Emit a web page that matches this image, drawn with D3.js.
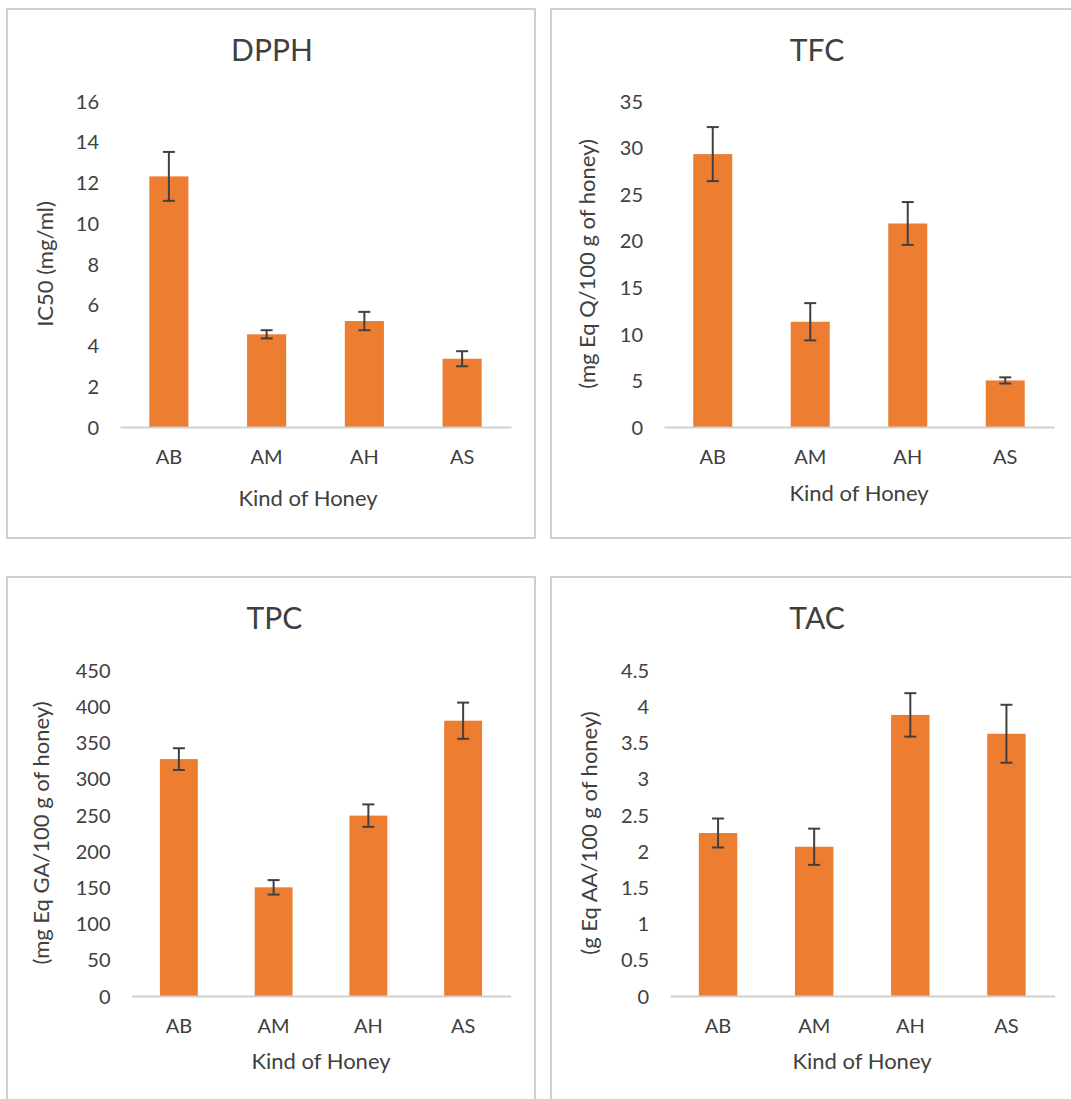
<!DOCTYPE html>
<html>
<head>
<meta charset="UTF-8" />
<title>Honey</title>
<script src="https://cdn.jsdelivr.net/npm/d3@7"></script>
<style>
body{margin:0;background:#fff;}
svg text{font-family:Lato,"Open Sans",sans-serif;fill:#404040;}
</style>
</head>
<body>
<div id="chart"></div>
<script>

var W=1071,H=1099;

var categories=['AB','AM','AH','AS'];

var dpphValues=[12.3,4.55,5.2,3.35];
var dpphErrors=[1.2,0.2,0.45,0.37];
var dpphTicks=[0,2,4,6,8,10,12,14,16];

var tfcValues=[29.3,11.3,21.85,5.0];
var tfcErrors=[2.9,2.0,2.3,0.33];
var tfcTicks=[0,5,10,15,20,25,30,35];

var tpcValues=[327,150,249,380];
var tpcErrors=[15,10,15.5,25];
var tpcTicks=[0,50,100,150,200,250,300,350,400,450];

var tacValues=[2.25,2.06,3.88,3.62];
var tacErrors=[0.2,0.25,0.3,0.4];
var tacTicks=[0,0.5,1,1.5,2,2.5,3,3.5,4,4.5];

var svg=d3.select('#chart').append('svg')
  .attr('width',W)
  .attr('height',H);

//each panel: box, plot area and text positions
var panels=[
  {title:'DPPH',ytitle:'IC50 (mg/ml)',values:dpphValues,errors:dpphErrors,ticks:dpphTicks,
   box:[7,9,528,529],left:120,right:511,top:101,bottom:427,
   titleX:272,titleY:50,xtX:308,xtY:498,ytX:45},
  {title:'TFC',ytitle:'(mg Eq Q/100 g of honey)',values:tfcValues,errors:tfcErrors,ticks:tfcTicks,
   box:[551,9,540,529],left:664,right:1054,top:101,bottom:427,
   titleX:817,titleY:50,xtX:859,xtY:493,ytX:587},
  {title:'TPC',ytitle:'(mg Eq GA/100 g of honey)',values:tpcValues,errors:tpcErrors,ticks:tpcTicks,
   box:[7,577,528,540],left:131.5,right:510.5,top:670,bottom:996,
   titleX:274.5,titleY:618,xtX:321,xtY:1061,ytX:41},
  {title:'TAC',ytitle:'(g Eq AA/100 g of honey)',values:tacValues,errors:tacErrors,ticks:tacTicks,
   box:[551,577,540,540],left:670,right:1054.5,top:670,bottom:996,
   titleX:817,titleY:618,xtX:862,xtY:1061,ytX:589}
];

panels.forEach(drawPanel);

function drawPanel(p){
  var g=svg.append('g');

  //外框
  g.append('rect')
    .attr('x',p.box[0]).attr('y',p.box[1])
    .attr('width',p.box[2]).attr('height',p.box[3])
    .attr('fill','#fff')
    .attr('stroke','#d0d0d0')
    .attr('stroke-width',2);

  var x=d3.scaleBand()
    .domain(categories)
    .range([p.left,p.right])
    .paddingInner(0.6)
    .paddingOuter(0.3);

  var y=d3.scaleLinear()
    .domain([0,d3.max(p.ticks)])
    .range([p.bottom,p.top]);

  //y axis labels, no line
  var ya=g.append('g')
    .attr('transform','translate('+p.left+',0)')
    .call(d3.axisLeft(y).tickValues(p.ticks).tickSize(0).tickPadding(21).tickFormat(d3.format('')));
  ya.select('.domain').remove();
  ya.selectAll('text')
    .attr('dy','0.36em')
    .style('font-size','20px')
    .style('font-family','Lato')
    .attr('fill','#404040');

  //bars
  g.selectAll('rect.bar')
    .data(p.values)
    .enter()
    .append('rect')
    .attr('class','bar')
    .attr('x',function(d,i){return x(categories[i]);})
    .attr('y',function(d){return y(d);})
    .attr('width',x.bandwidth())
    .attr('height',function(d){return p.bottom-y(d);})
    .attr('fill','#ed7d31');

  //x axis
  var xa=g.append('g')
    .attr('transform','translate(0,'+p.bottom+')')
    .call(d3.axisBottom(x).tickSize(0).tickSizeOuter(0));
  xa.select('.domain')
    .attr('stroke','#d0d0d0')
    .attr('stroke-width',2);
  xa.selectAll('text')
    .attr('y',29.5)
    .attr('dy','0.36em')
    .style('font-size','20px')
    .style('font-family','Lato')
    .attr('fill','#404040');

  //error bars
  var eb=g.selectAll('g.err')
    .data(p.values)
    .enter()
    .append('g')
    .attr('class','err')
    .attr('stroke','#404040')
    .attr('stroke-width',2);
  eb.append('line')
    .attr('x1',function(d,i){return x(categories[i])+x.bandwidth()/2;})
    .attr('x2',function(d,i){return x(categories[i])+x.bandwidth()/2;})
    .attr('y1',function(d,i){return y(d+p.errors[i]);})
    .attr('y2',function(d,i){return y(d-p.errors[i]);});
  [1,-1].forEach(function(s){
    eb.append('line')
      .attr('x1',function(d,i){return x(categories[i])+x.bandwidth()/2-6;})
      .attr('x2',function(d,i){return x(categories[i])+x.bandwidth()/2+6;})
      .attr('y1',function(d,i){return y(d+s*p.errors[i]);})
      .attr('y2',function(d,i){return y(d+s*p.errors[i]);});
  });

  //titles
  g.append('text')
    .attr('x',p.titleX).attr('y',p.titleY)
    .attr('dy','0.36em')
    .attr('text-anchor','middle')
    .style('font-size','30px')
    .text(p.title);

  g.append('text')
    .attr('x',p.xtX).attr('y',p.xtY)
    .attr('dy','0.36em')
    .attr('text-anchor','middle')
    .style('font-size','22px')
    .text('Kind of Honey');

  var cy=(p.top+p.bottom)/2;
  g.append('text')
    .attr('transform','translate('+p.ytX+','+cy+') rotate(-90)')
    .attr('dy','0.36em')
    .attr('text-anchor','middle')
    .style('font-size','22px')
    .text(p.ytitle);
}

</script>
</body>
</html>
